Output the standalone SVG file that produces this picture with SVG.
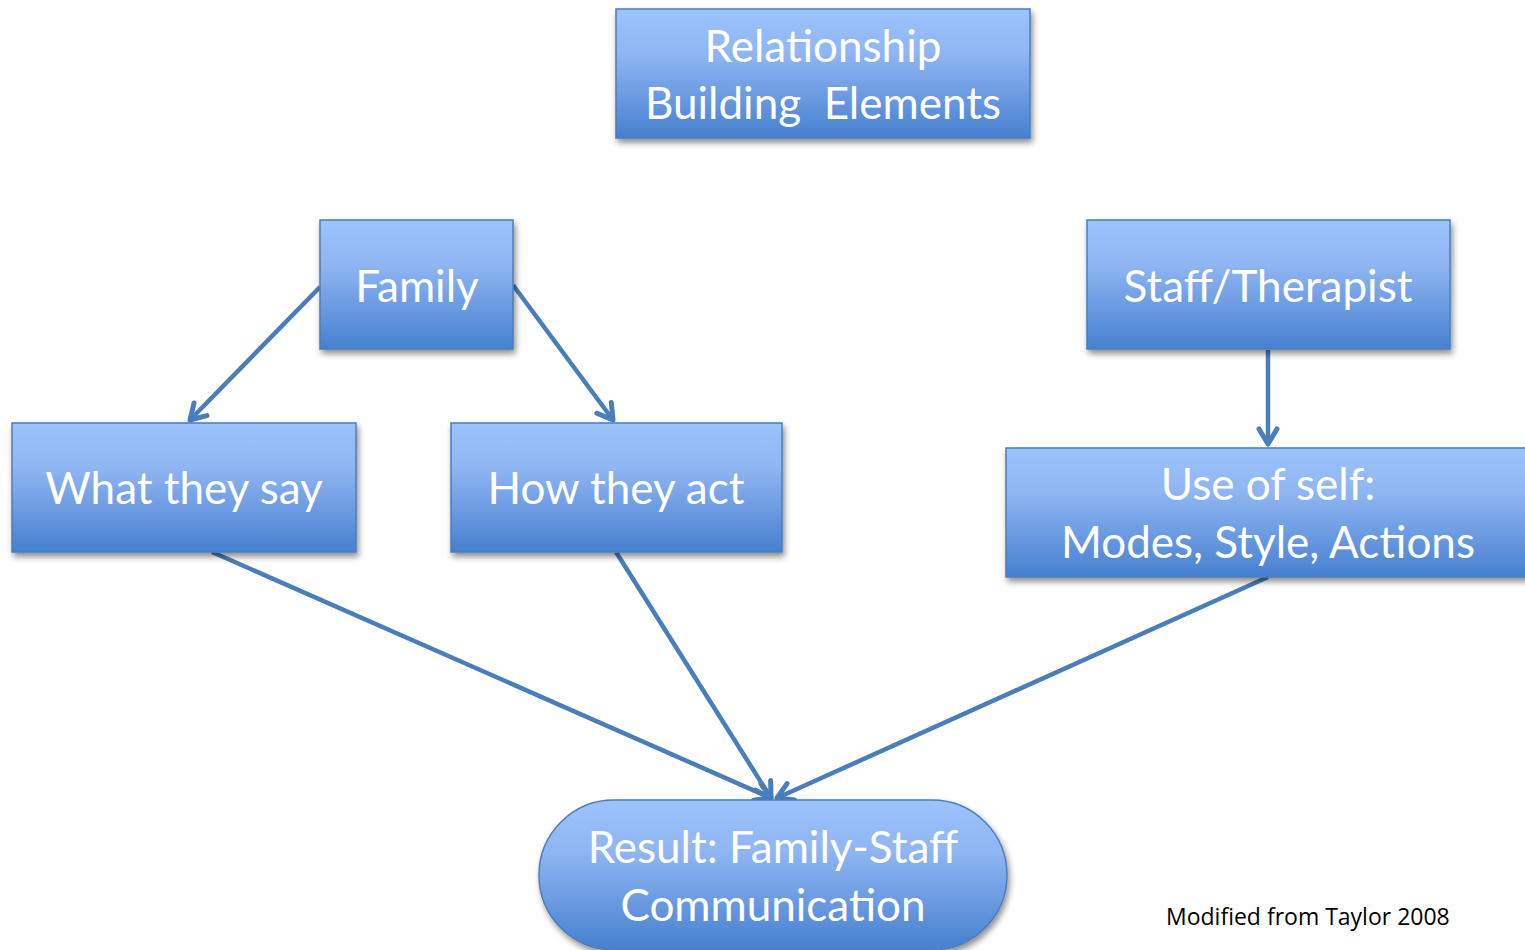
<svg xmlns="http://www.w3.org/2000/svg" width="1525" height="950" viewBox="0 0 1525 950">
<defs>
<linearGradient id="g" x1="0" y1="0" x2="0" y2="1">
<stop offset="0" stop-color="#9dc3fd"/>
<stop offset="0.35" stop-color="#8fb5f2"/>
<stop offset="1" stop-color="#4680d0"/>
</linearGradient>
<filter id="sh" x="-10%" y="-10%" width="125%" height="135%">
<feGaussianBlur in="SourceAlpha" stdDeviation="3"/>
<feOffset dx="2" dy="4" result="b"/>
<feComponentTransfer><feFuncA type="linear" slope="0.45"/></feComponentTransfer>
<feMerge><feMergeNode/><feMergeNode in="SourceGraphic"/></feMerge>
</filter>
<marker id="arr" markerWidth="24" markerHeight="24" refX="19" refY="12" orient="auto" markerUnits="userSpaceOnUse" viewBox="0 0 24 24">
<path d="M4,3 L19,12 L4,21" fill="none" stroke="#4a7ebb" stroke-width="5" stroke-linecap="round" stroke-linejoin="round"/>
</marker>
</defs>
<style>
.box{fill:url(#g);stroke:#4a7ebb;stroke-width:1.5;filter:url(#sh)}
.t{font-family:Lato,"Open Sans",sans-serif;fill:#ffffff;text-anchor:middle;font-size:44px}
.c{fill:none;stroke:#4a7ebb;stroke-width:4.5;marker-end:url(#arr)}
.n{font-family:"Open Sans","Liberation Sans",sans-serif;fill:#000;font-size:23px}
</style>
<rect width="1525" height="950" fill="#ffffff"/>
<g id="connectors">
<line class="c" x1="320" y1="287" x2="190" y2="420"/>
<line class="c" x1="513" y1="285" x2="613" y2="420"/>
<line class="c" x1="1268" y1="350" x2="1268" y2="444"/>
<line class="c" x1="212" y1="552" x2="771" y2="798"/>
<line class="c" x1="616" y1="552" x2="771" y2="798"/>
<line class="c" x1="1268" y1="577" x2="777" y2="798"/>
</g>
<g id="n-title"><rect class="box" x="616" y="9" width="414" height="129"/>
<text class="t" x="823" y="62">Relationship</text><text class="t" x="823" y="119" xml:space="preserve">Building  Elements</text></g>
<g id="n-family"><rect class="box" x="320" y="220" width="193" height="129"/>
<text class="t" x="417" y="302">Family</text></g>
<g id="n-staff"><rect class="box" x="1087" y="220" width="363" height="129"/>
<text class="t" x="1268" y="302">Staff/Therapist</text></g>
<g id="n-say"><rect class="box" x="12" y="423" width="344" height="129"/>
<text class="t" x="184" y="504">What they say</text></g>
<g id="n-act"><rect class="box" x="451" y="423" width="331" height="129"/>
<text class="t" x="616" y="504">How they act</text></g>
<g id="n-self"><rect class="box" x="1006" y="448" width="530" height="129"/>
<text class="t" x="1268" y="500">Use of self:</text><text class="t" x="1268" y="558">Modes, Style, Actions</text></g>
<g id="n-result"><rect class="box" x="539" y="800" width="468" height="150" rx="75" ry="75"/>
<text class="t" x="773" y="863">Result: Family-Staff</text><text class="t" x="773" y="921">Communication</text></g>
<text class="n" x="1166" y="925">Modified from Taylor 2008</text>
</svg>
